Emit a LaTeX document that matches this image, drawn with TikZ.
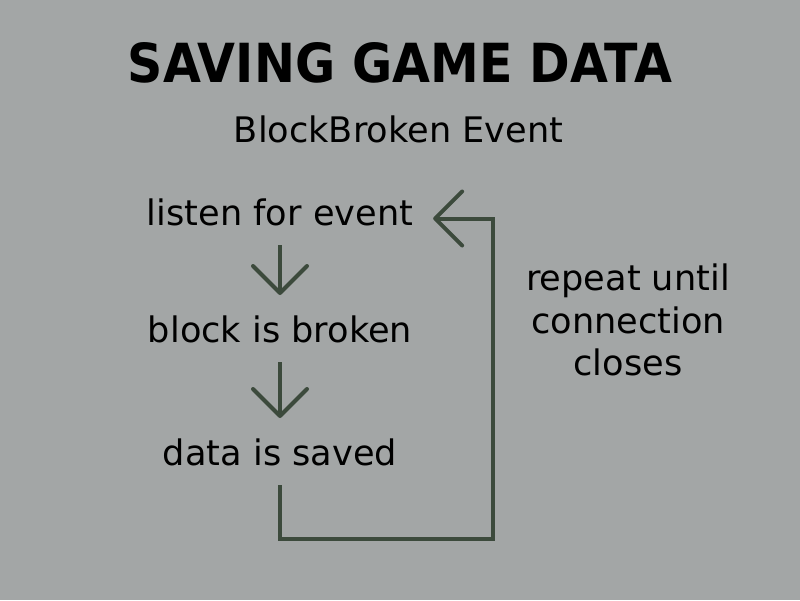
\documentclass[tikz,border=0pt]{standalone}
\usepackage{fontspec}
\setmainfont{DejaVu Sans}
\usetikzlibrary{arrows.meta}

\definecolor{bggray}{HTML}{A3A6A6}
\definecolor{loopgreen}{HTML}{3C4A3C}

\begin{document}
\begin{tikzpicture}[
  steptext/.style={font=\fontsize{20}{24}\selectfont, inner sep=0pt,
    text height=0.54cm, text depth=0pt, outer sep=0.4cm, anchor=base},
  flow/.style={draw=loopgreen, line width=0.08cm,
    -{Straight Barb[length=0.54cm, width=1.08cm, round]}}
]
\def\xs{5.6};

% background
\fill[bggray] (0,0) rectangle (16,12);

\node[inner sep=0pt] (title) at (8, 10.74)
  {\resizebox{10.88cm}{0.8cm}{\bfseries SAVING GAME DATA}};
\node[steptext, text height=0.52cm, outer sep=0pt] (event) at (7.97, 9.14) {BlockBroken Event};

% the three steps
\node[steptext] (listen) at (\xs, 7.5) {listen for event};
\node[steptext] (block) at (\xs, 5.16) {block is broken};
\node[steptext] (data) at (\xs, 2.7) {data is saved};

\draw[flow] (listen) -- (block);
\draw[flow] (block) -- (data);

% loop back to the start
\coordinate (loopcorner) at (9.86, 1.22);
\draw[flow] (data.south) |- (loopcorner) |- ([yshift=-0.14cm]listen.east);

\node[font=\fontsize{20}{24}\selectfont, align=center] (repeatlbl) at (12.56, 5.6)
  {repeat until\\connection\\closes};

\end{tikzpicture}
\end{document}
